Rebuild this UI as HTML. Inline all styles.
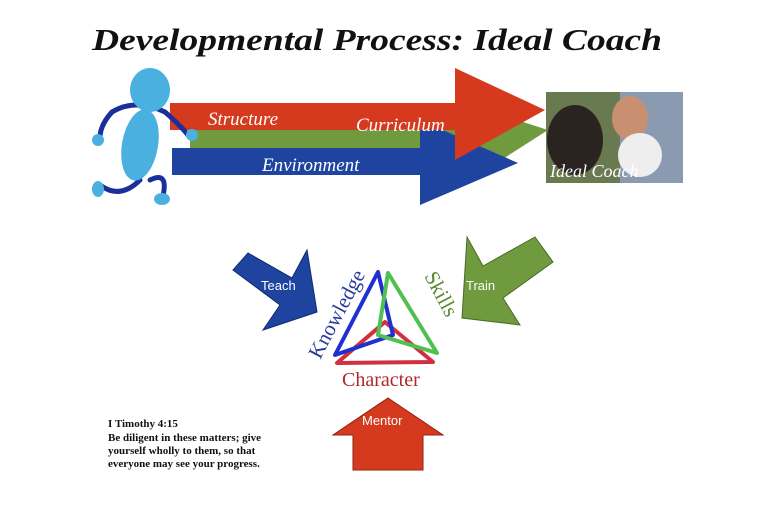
<!DOCTYPE html><html><head><style>body{margin:0;background:#fff}svg{display:block}</style></head><body>
<svg width="768" height="512" xmlns="http://www.w3.org/2000/svg">
<text x="92" y="50" font-family="Liberation Serif,serif" font-weight="bold" font-style="italic" font-size="31" fill="#111" textLength="570" lengthAdjust="spacingAndGlyphs">Developmental Process: Ideal Coach</text>
<!-- arrows -->
<polygon points="190,128 470,128 470,105 548,130 470,180 470,150 190,150" fill="#6f9a3e"/>
<polygon points="172,148 420,148 420,120 518,163 420,205 420,175 172,175" fill="#1e44a0"/>
<polygon points="170,103 455,103 455,68 545,110 455,160 455,130 170,130" fill="#d63a1e"/>
<g font-family="Liberation Serif,serif" font-style="italic" font-size="19" fill="#fff">
<text x="208" y="125">Structure</text><text x="356" y="131">Curriculum</text><text x="262" y="171">Environment</text></g>
<!-- figure -->
<g stroke="#1a2f9a" stroke-width="5" fill="none" stroke-linecap="round">
<path d="M112,112 Q135,98 165,112 Q180,125 188,135"/><path d="M140,180 Q120,200 100,185"/><path d="M150,180 Q170,170 162,200"/><path d="M112,112 Q100,125 100,138"/></g>
<g fill="#4ab0e0"><ellipse cx="150" cy="90" rx="20" ry="22"/><ellipse cx="140" cy="145" rx="18" ry="36" transform="rotate(10 140 145)"/><circle cx="98" cy="140" r="6"/><circle cx="192" cy="135" r="6"/><ellipse cx="98" cy="189" rx="6" ry="8"/><ellipse cx="162" cy="199" rx="8" ry="6"/></g>
<!-- photo -->
<rect x="546" y="92" width="137" height="91" fill="#6a7a50"/>
<rect x="620" y="92" width="63" height="91" fill="#8a9ab0"/>
<ellipse cx="575" cy="140" rx="28" ry="35" fill="#2a2420"/>
<ellipse cx="630" cy="118" rx="18" ry="22" fill="#c89070"/>
<circle cx="640" cy="155" r="22" fill="#eee"/>
<text x="550" y="177" font-family="Liberation Serif,serif" font-style="italic" font-size="18" fill="#fff">Ideal Coach</text>
<!-- lower arrows -->
<polygon points="248,253 292,278 307,250 317,312 263,330 280,305 233,270" fill="#1e44a0" stroke="#102a70"/>
<text x="261" y="290" font-family="Liberation Sans,sans-serif" font-size="13" fill="#fff">Teach</text>
<polygon points="535,237 553,262 503,298 520,325 462,318 467,237 483,266" fill="#6f9a3e" stroke="#4a6a28"/>
<text x="466" y="290" font-family="Liberation Sans,sans-serif" font-size="13" fill="#fff">Train</text>
<polygon points="388,398 443,435 423,435 423,470 353,470 353,435 333,435" fill="#d63a1e" stroke="#902010"/>
<text x="362" y="425" font-family="Liberation Sans,sans-serif" font-size="13" fill="#fff">Mentor</text>
<!-- triangles -->
<g fill="none" stroke-width="4" stroke-linejoin="round">
<polygon points="385,322 337,363 433,362" stroke="#d03040"/>
<polygon points="378,272 335,355 393,335" stroke="#2030d0"/>
<polygon points="388,273 437,353 378,335" stroke="#50c050"/></g>
<text transform="translate(320,360) rotate(-62)" font-family="Liberation Serif,serif" font-size="21" fill="#2a3a9a">Knowledge</text>
<text transform="translate(424,276) rotate(62)" font-family="Liberation Serif,serif" font-size="21" fill="#5a8a30">Skills</text>
<text x="342" y="386" font-family="Liberation Serif,serif" font-size="20" fill="#b02828">Character</text>
<g font-family="Liberation Serif,serif" font-weight="bold" font-size="11" fill="#111">
<text x="108" y="427">I Timothy 4:15</text><text x="108" y="441">Be diligent in these matters; give</text><text x="108" y="454">yourself wholly to them, so that</text><text x="108" y="467">everyone may see your progress.</text></g>
</svg></body></html>
